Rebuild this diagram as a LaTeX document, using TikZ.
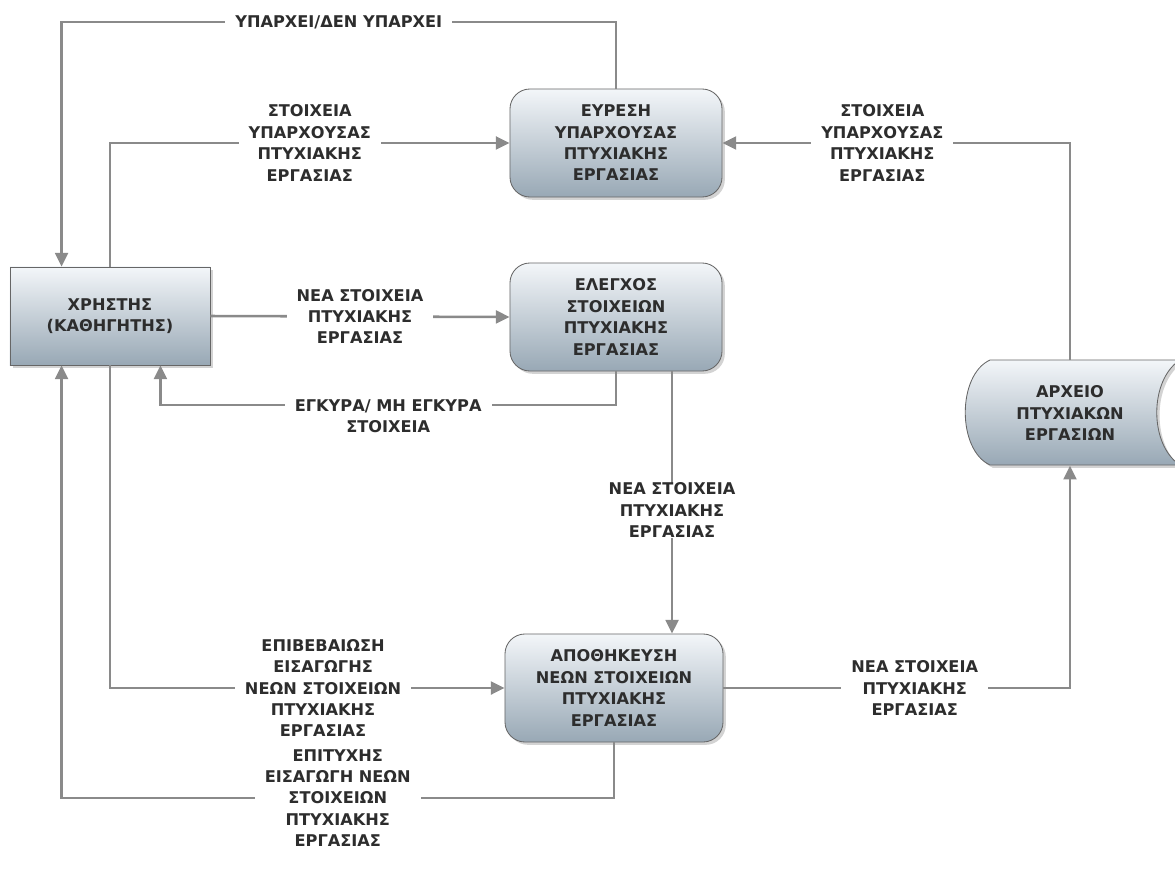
\documentclass[tikz,border=0pt]{standalone}
\usepackage{fontspec}
\setmainfont{DejaVu Sans}
\usetikzlibrary{arrows.meta,shadows,positioning}
\definecolor{boxtop}{RGB}{243,246,249}
\definecolor{boxbot}{RGB}{152,168,181}
\definecolor{flowgray}{RGB}{138,138,138}
\definecolor{txtgray}{RGB}{45,45,45}

\begin{document}
\begin{tikzpicture}[x=0.025cm, y=-0.025cm,
    every node/.style={font=\bfseries\fontsize{11.5}{15.2}\selectfont, text=txtgray, align=center},
    shaded/.style={top color=boxtop, bottom color=boxbot, draw=black!60, line width=0.6pt,
        drop shadow={opacity=0.35, shadow xshift=0.07cm, shadow yshift=-0.07cm}},
    process/.style={shaded, rounded corners=0.5cm, minimum width=5.3cm, minimum height=2.7cm},
    actor/.style={shaded, minimum width=5cm, minimum height=2.45cm},
    flow/.style={draw=flowgray, line width=1.8pt, -{Triangle[length=0.34cm, width=0.32cm]}},
    lbl/.style={fill=white, inner xsep=0.25cm, inner ysep=0pt}]
    \useasboundingbox (0,0) rectangle (1175,879);

    % Draw the user and the three processes
    \node[actor] (user) at (110,316) {ΧΡΗΣΤΗΣ\\(ΚΑΘΗΓΗΤΗΣ)};
    \node[process] (find) at (616,143) {ΕΥΡΕΣΗ\\ΥΠΑΡΧΟΥΣΑΣ\\ΠΤΥΧΙΑΚΗΣ\\ΕΡΓΑΣΙΑΣ};
    \node[process] (check) at (616,317) {ΕΛΕΓΧΟΣ\\ΣΤΟΙΧΕΙΩΝ\\ΠΤΥΧΙΑΚΗΣ\\ΕΡΓΑΣΙΑΣ};
    \node[process, minimum width=5.45cm] (store) at (614,688) {ΑΠΟΘΗΚΕΥΣΗ\\ΝΕΩΝ ΣΤΟΙΧΕΙΩΝ\\ΠΤΥΧΙΑΚΗΣ\\ΕΡΓΑΣΙΑΣ};

    % Draw the archive (cut off at the right edge)
    \path[shaded] (990,360) -- (1180,360) .. controls (1149,380) and (1149,445) .. (1180,465)
        -- (990,465) .. controls (957,450) and (957,375) .. cycle;
    \node[minimum width=5.3cm, minimum height=2.625cm] (archive) at (1070,413) {ΑΡΧΕΙΟ\\ΠΤΥΧΙΑΚΩΝ\\ΕΡΓΑΣΙΩΝ};

    % Draw the flows
    \draw[flow] (find.north) -- (find.north |- 0,22) -| ([xshift=1.3cm]user.north west)
        node[lbl, pos=0.25] {ΥΠΑΡΧΕΙ/ΔΕΝ ΥΠΑΡΧΕΙ};
    \draw[flow] (user.north) |- (find.west)
        node[lbl, pos=0.75] {ΣΤΟΙΧΕΙΑ\\ΥΠΑΡΧΟΥΣΑΣ\\ΠΤΥΧΙΑΚΗΣ\\ΕΡΓΑΣΙΑΣ};
    \draw[flow] (archive.north) |- (find.east)
        node[lbl, pos=0.77] {ΣΤΟΙΧΕΙΑ\\ΥΠΑΡΧΟΥΣΑΣ\\ΠΤΥΧΙΑΚΗΣ\\ΕΡΓΑΣΙΑΣ};
    \draw[flow] (user.east) -- (check.west)
        node[lbl, midway] {ΝΕΑ ΣΤΟΙΧΕΙΑ\\ΠΤΥΧΙΑΚΗΣ\\ΕΡΓΑΣΙΑΣ};
    \draw[flow] (check.south) -- (check.south |- 0,405) -| ([xshift=-1.25cm]user.south east)
        node[lbl, pos=0.25, yshift=-0.28cm] {ΕΓΚΥΡΑ/ ΜΗ ΕΓΚΥΡΑ\\ΣΤΟΙΧΕΙΑ};
    \draw[flow] ([xshift=1.4cm]check.south) -- ([xshift=1.4cm]check.south |- store.north)
        node[lbl, pos=0.53] {ΝΕΑ ΣΤΟΙΧΕΙΑ\\ΠΤΥΧΙΑΚΗΣ\\ΕΡΓΑΣΙΑΣ};
    \draw[flow] (user.south) |- (store.west)
        node[lbl, pos=0.77] {ΕΠΙΒΕΒΑΙΩΣΗ\\ΕΙΣΑΓΩΓΗΣ\\ΝΕΩΝ ΣΤΟΙΧΕΙΩΝ\\ΠΤΥΧΙΑΚΗΣ\\ΕΡΓΑΣΙΑΣ};
    \draw[flow] (store.east) -| (archive.south)
        node[lbl, pos=0.276] {ΝΕΑ ΣΤΟΙΧΕΙΑ\\ΠΤΥΧΙΑΚΗΣ\\ΕΡΓΑΣΙΑΣ};
    \draw[flow] (store.south) -- (store.south |- 0,798) -| ([xshift=1.3cm]user.south west)
        node[lbl, pos=0.25] {ΕΠΙΤΥΧΗΣ\\ΕΙΣΑΓΩΓΗ ΝΕΩΝ\\ΣΤΟΙΧΕΙΩΝ\\ΠΤΥΧΙΑΚΗΣ\\ΕΡΓΑΣΙΑΣ};
\end{tikzpicture}
\end{document}
